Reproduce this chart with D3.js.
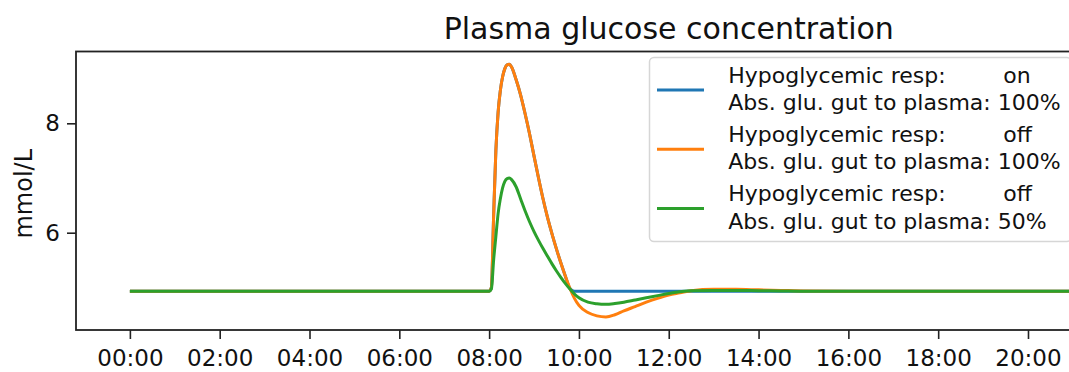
<!DOCTYPE html>
<html>
<head>
<meta charset="utf-8">
<script src="https://cdn.jsdelivr.net/npm/d3@7"></script>
<style>
  html, body { margin: 0; padding: 0; background: #fff; overflow: hidden; }
  svg { display: block; font-family: "DejaVu Sans", sans-serif; }
</style>
</head>
<body>
<svg id="chart" width="1069" height="372"></svg>
<script>
// Simulation time (hours after midnight)
const hours = [
  0, 8.0, 8.05, 8.1, 8.15, 8.2, 8.25, 8.3, 8.35, 8.4, 8.45, 8.5, 8.6, 8.7, 8.8, 8.9,
  9.0, 9.1, 9.2, 9.3, 9.4, 9.5, 9.6, 9.7, 9.8, 9.9, 10.0, 10.2, 10.4, 10.6, 10.8,
  11.0, 11.25, 11.5, 11.75, 12.0, 12.25, 12.5, 13.0, 13.5, 14.0, 14.5, 15.0, 16.0,
  18.0, 20.0, 22.0, 24.0
];

// Plasma glucose (mmol/L): hypoglycemic response on, 100 % gut absorption
const glucoseRespOn = [
  4.93, 4.93, 5.0, 6.3, 7.5, 8.2, 8.6, 8.85, 9.0, 9.07, 9.08, 9.03, 8.8, 8.52, 8.18, 7.81,
  7.4, 7.0, 6.62, 6.28, 5.98, 5.7, 5.44, 5.2, 4.98, 4.93, 4.93, 4.93, 4.93, 4.93, 4.93,
  4.93, 4.93, 4.93, 4.93, 4.93, 4.93, 4.93, 4.93, 4.93, 4.93, 4.93, 4.93, 4.93,
  4.93, 4.93, 4.93, 4.93
];

// Hypoglycemic response off, 100 % gut absorption
const glucoseRespOff = [
  4.93, 4.93, 5.0, 6.3, 7.5, 8.2, 8.6, 8.85, 9.0, 9.07, 9.08, 9.03, 8.8, 8.52, 8.18, 7.81,
  7.4, 7.0, 6.62, 6.28, 5.98, 5.7, 5.44, 5.2, 4.98, 4.8, 4.67, 4.54, 4.48, 4.46, 4.5,
  4.57, 4.65, 4.73, 4.8, 4.86, 4.9, 4.94, 4.965, 4.965, 4.955, 4.945, 4.935, 4.93,
  4.93, 4.93, 4.93, 4.93
];

// Hypoglycemic response off, 50 % gut absorption
const glucoseRespOffHalf = [
  4.93, 4.93, 4.97, 5.5, 5.93, 6.35, 6.62, 6.82, 6.94, 6.99, 7.0, 6.97, 6.84, 6.62, 6.4, 6.2,
  6.02, 5.86, 5.71, 5.57, 5.43, 5.3, 5.18, 5.07, 4.97, 4.88, 4.81, 4.73, 4.7, 4.69, 4.705,
  4.73, 4.77, 4.81, 4.85, 4.89, 4.92, 4.94, 4.945, 4.945, 4.94, 4.935, 4.93, 4.93,
  4.93, 4.93, 4.93, 4.93
];

const seriesResp = ["on", "off", "off"];
const seriesAbsorption = ["100%", "100%", "50%"];
const seriesColors = ["#1f77b4", "#ff7f0e", "#2ca02c"];

const xTickHours = [0, 2, 4, 6, 8, 10, 12, 14, 16, 18, 20];
const xTickLabels = ["00:00", "02:00", "04:00", "06:00", "08:00", "10:00", "12:00",
                     "14:00", "16:00", "18:00", "20:00"];
const yTickValues = [6, 8];

const titleText = "Plasma glucose concentration";
const yLabelText = "mmol/L";

// ---- layout ----
const plot = { left: 76, right: 1261.5, top: 51.5, bottom: 330 };
const svg = d3.select("#chart");

const x = d3.scaleLinear().domain([-1.2, 25.2]).range([plot.left, plot.right]);
const y = d3.scaleLinear().domain([4.221, 9.313]).range([plot.bottom, plot.top]);

svg.append("defs").append("clipPath").attr("id", "plot-clip")
  .append("rect")
  .attr("x", plot.left).attr("y", plot.top)
  .attr("width", plot.right - plot.left).attr("height", plot.bottom - plot.top);

// ---- lines ----
const seriesValues = [glucoseRespOn, glucoseRespOff, glucoseRespOffHalf];
const line = d3.line()
  .x(d => x(d[0]))
  .y(d => y(d[1]))
  .curve(d3.curveMonotoneX);

const lineGroup = svg.append("g").attr("clip-path", "url(#plot-clip)");
seriesValues.forEach((vals, i) => {
  lineGroup.append("path")
    .datum(hours.map((h, j) => [h, vals[j]]))
    .attr("fill", "none")
    .attr("stroke", seriesColors[i])
    .attr("stroke-width", 3)
    .attr("stroke-linejoin", "round")
    .attr("d", line);
});

// ---- axes ----
const xAxis = d3.axisBottom(x)
  .tickValues(xTickHours)
  .tickFormat((d, i) => xTickLabels[i])
  .tickSize(9)
  .tickPadding(10.5);

const gx = svg.append("g")
  .attr("transform", `translate(0,${plot.bottom})`)
  .call(xAxis);
gx.select(".domain").remove();
gx.selectAll(".tick line").attr("stroke", "#222").attr("stroke-width", 1.6);
gx.selectAll(".tick text")
  .attr("fill", "#111")
  .style("font-size", "23px")
  .style("font-family", "'DejaVu Sans', sans-serif");

const yAxis = d3.axisLeft(y)
  .tickValues(yTickValues)
  .tickFormat(d3.format("d"))
  .tickSize(9)
  .tickPadding(7);

const gy = svg.append("g")
  .attr("transform", `translate(${plot.left},0)`)
  .call(yAxis);
gy.select(".domain").remove();
gy.selectAll(".tick line").attr("stroke", "#222").attr("stroke-width", 1.6);
gy.selectAll(".tick text")
  .attr("fill", "#111")
  .style("font-size", "23px")
  .style("font-family", "'DejaVu Sans', sans-serif");

// frame
svg.append("rect")
  .attr("x", plot.left).attr("y", plot.top)
  .attr("width", plot.right - plot.left).attr("height", plot.bottom - plot.top)
  .attr("fill", "none")
  .attr("stroke", "#222")
  .attr("stroke-width", 1.8);

// ---- title and y label ----
svg.append("text")
  .attr("x", (plot.left + plot.right) / 2)
  .attr("y", 39)
  .attr("text-anchor", "middle")
  .attr("fill", "#111")
  .style("font-size", "30px")
  .text(titleText);

svg.append("text")
  .attr("transform", `translate(32,${(plot.top + plot.bottom) / 2 + 3}) rotate(-90)`)
  .attr("text-anchor", "middle")
  .attr("fill", "#111")
  .style("font-size", "24px")
  .text(yLabelText);

// ---- legend ----
const legend = svg.append("g");
legend.append("rect")
  .attr("x", 649.5).attr("y", 57.5)
  .attr("width", 422).attr("height", 184)
  .attr("rx", 4.5)
  .attr("fill", "#fff").attr("fill-opacity", 0.8)
  .attr("stroke", "#d6d6d6").attr("stroke-width", 1.5);

const entryStep = 59.3;
seriesColors.forEach((c, i) => {
  const base = 82.5 + i * entryStep;
  legend.append("line")
    .attr("x1", 657).attr("x2", 704)
    .attr("y1", base + 7.5).attr("y2", base + 7.5)
    .attr("stroke", c).attr("stroke-width", 3);

  const t1 = legend.append("text")
    .attr("y", base).attr("fill", "#111").style("font-size", "22px");
  t1.append("tspan").attr("x", 728.3).text("Hypoglycemic resp:");
  t1.append("tspan").attr("x", 1003.3).text(seriesResp[i]);

  legend.append("text")
    .attr("x", 728.3).attr("y", base + 27.6)
    .attr("fill", "#111").style("font-size", "22px")
    .text("Abs. glu. gut to plasma: " + seriesAbsorption[i]);
});
</script>
</body>
</html>
